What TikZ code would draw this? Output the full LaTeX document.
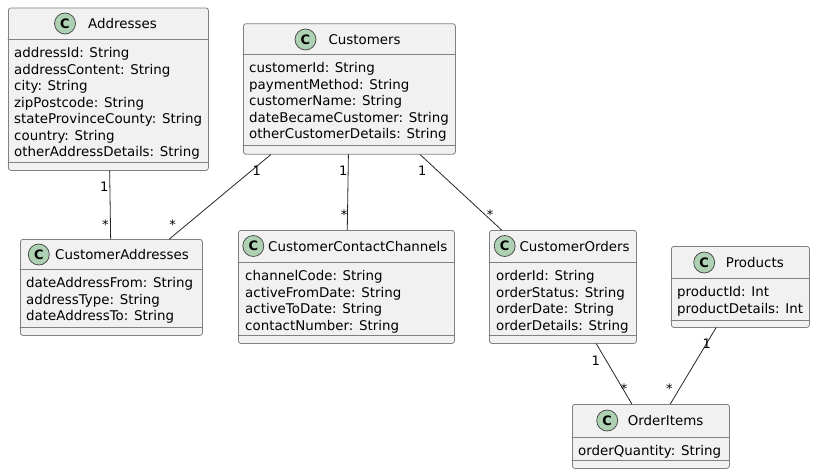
\documentclass[tikz,border=0pt]{standalone}
\usepackage{fontspec}
\setmainfont{DejaVu Sans}
\usetikzlibrary{positioning}
\definecolor{clsfill}{HTML}{F1F1F1}
\definecolor{clsline}{HTML}{808080}
\definecolor{iconfill}{HTML}{ADD1B2}
\begin{document}
\begin{tikzpicture}[line cap=round,line join=round,x=1pt,y=-1pt,
	every node/.style={font=\fontsize{13.4}{16.5}\selectfont,inner sep=0pt},
	cls/.style={draw=clsline,fill=clsfill,rounded corners=2.5pt,line width=0.8pt,anchor=north west},
	divline/.style={draw=clsline,line width=0.8pt},
	icon/.style={circle,draw=black!75,fill=iconfill,line width=0.7pt,minimum size=21pt,font=\fontsize{13}{13}\selectfont\bfseries},
	title/.style={anchor=base west},
	attr/.style={anchor=base west},
	assoc/.style={draw=black!85,line width=0.8pt},
	mult/.style={anchor=base,font=\fontsize{13}{13}\selectfont}]

\useasboundingbox (0,0) rectangle (814,474);

% class boxes
\node[cls,minimum width=200pt,minimum height=162.5pt] (addresses) at (8,7.5) {};
\node[cls,minimum width=212pt,minimum height=130.5pt] (customers) at (243,23.3) {};
\node[cls,minimum width=182pt,minimum height=96pt] (custaddr) at (20,239) {};
\node[cls,minimum width=216pt,minimum height=113pt] (contact) at (238,230) {};
\node[cls,minimum width=147pt,minimum height=113pt] (orders) at (489,230) {};
\node[cls,minimum width=138pt,minimum height=81pt] (products) at (671,246) {};
\node[cls,minimum width=157pt,minimum height=64pt] (items) at (572,404) {};

% dividers
\draw[divline] (8,39.3) -- (208,39.3);
\draw[divline] (8,162) -- (208,162);
\draw[divline] (243,54.3) -- (455,54.3);
\draw[divline] (243,145.5) -- (455,145.5);
\draw[divline] (20,269) -- (202,269);
\draw[divline] (20,327) -- (202,327);
\draw[divline] (238,262) -- (454,262);
\draw[divline] (238,335) -- (454,335);
\draw[divline] (489,262) -- (636,262);
\draw[divline] (489,335) -- (636,335);
\draw[divline] (671,278) -- (809,278);
\draw[divline] (671,320) -- (809,320);
\draw[divline] (572,437) -- (729,437);
\draw[divline] (572,460) -- (729,460);

% headers
\node[icon] (addresses-c) at (65,23.5) {C};
\node[title] (addresses-t) at (88,28.5) {Addresses};
\node[icon] (customers-c) at (305.5,39.5) {C};
\node[title] (customers-t) at (328.3,44.5) {Customers};
\node[icon] (custaddr-c) at (38.8,254.5) {C};
\node[title] (custaddr-t) at (55,259.5) {CustomerAddresses};
\node[icon] (contact-c) at (253.3,246) {C};
\node[title] (contact-t) at (268,251) {CustomerContactChannels};
\node[icon] (orders-c) at (504.7,246) {C};
\node[title] (orders-t) at (519.3,251) {CustomerOrders};
\node[icon] (products-c) at (704.2,262.5) {C};
\node[title] (products-t) at (725.7,267.5) {Products};
\node[icon] (items-c) at (607.2,420.5) {C};
\node[title] (items-t) at (627.7,425.5) {OrderItems};

% attributes
\foreach \a [count=\i from 0] in {addressId: String,addressContent: String,city: String,zipPostcode: String,stateProvinceCounty: String,country: String,otherAddressDetails: String}
	\node[attr] (addresses-\i) at (14,57.5+16.5*\i) {\a};
\foreach \a [count=\i from 0] in {customerId: String,paymentMethod: String,customerName: String,dateBecameCustomer: String,otherCustomerDetails: String}
	\node[attr] (customers-\i) at (249,72.8+16.5*\i) {\a};
\foreach \a [count=\i from 0] in {dateAddressFrom: String,addressType: String,dateAddressTo: String}
	\node[attr] (custaddr-\i) at (26,287.5+16.5*\i) {\a};
\foreach \a [count=\i from 0] in {channelCode: String,activeFromDate: String,activeToDate: String,contactNumber: String}
	\node[attr] (contact-\i) at (245,280.5+16.5*\i) {\a};
\foreach \a [count=\i from 0] in {orderId: String,orderStatus: String,orderDate: String,orderDetails: String}
	\node[attr] (orders-\i) at (496,280.5+16.5*\i) {\a};
\foreach \a [count=\i from 0] in {productId: Int,productDetails: Int}
	\node[attr] (products-\i) at (677,296.5+16.5*\i) {\a};
\node[attr] (items-0) at (578,455) {orderQuantity: String};

% associations
\draw[assoc] (addresses) -- (custaddr);
\draw[assoc] (customers) -- (custaddr);
\draw[assoc] (customers) -- (contact);
\draw[assoc] (customers) -- (orders);
\draw[assoc] (orders) -- (items);
\draw[assoc] (products) -- (items);

% multiplicities
\node[mult] (m1a) at (104.3,191) {1};
\node[mult] (m1b) at (105.3,229) {*};
\node[mult] (m2a) at (256.7,175.7) {1};
\node[mult] (m2b) at (172.7,229) {*};
\node[mult] (m3a) at (343.3,175.7) {1};
\node[mult] (m3b) at (344,219.5) {*};
\node[mult] (m4a) at (422.3,175.7) {1};
\node[mult] (m4b) at (490,219.5) {*};
\node[mult] (m5a) at (595.7,365) {1};
\node[mult] (m5b) at (624,393) {*};
\node[mult] (m6a) at (706.7,348) {1};
\node[mult] (m6b) at (669.3,393) {*};
\end{tikzpicture}
\end{document}
